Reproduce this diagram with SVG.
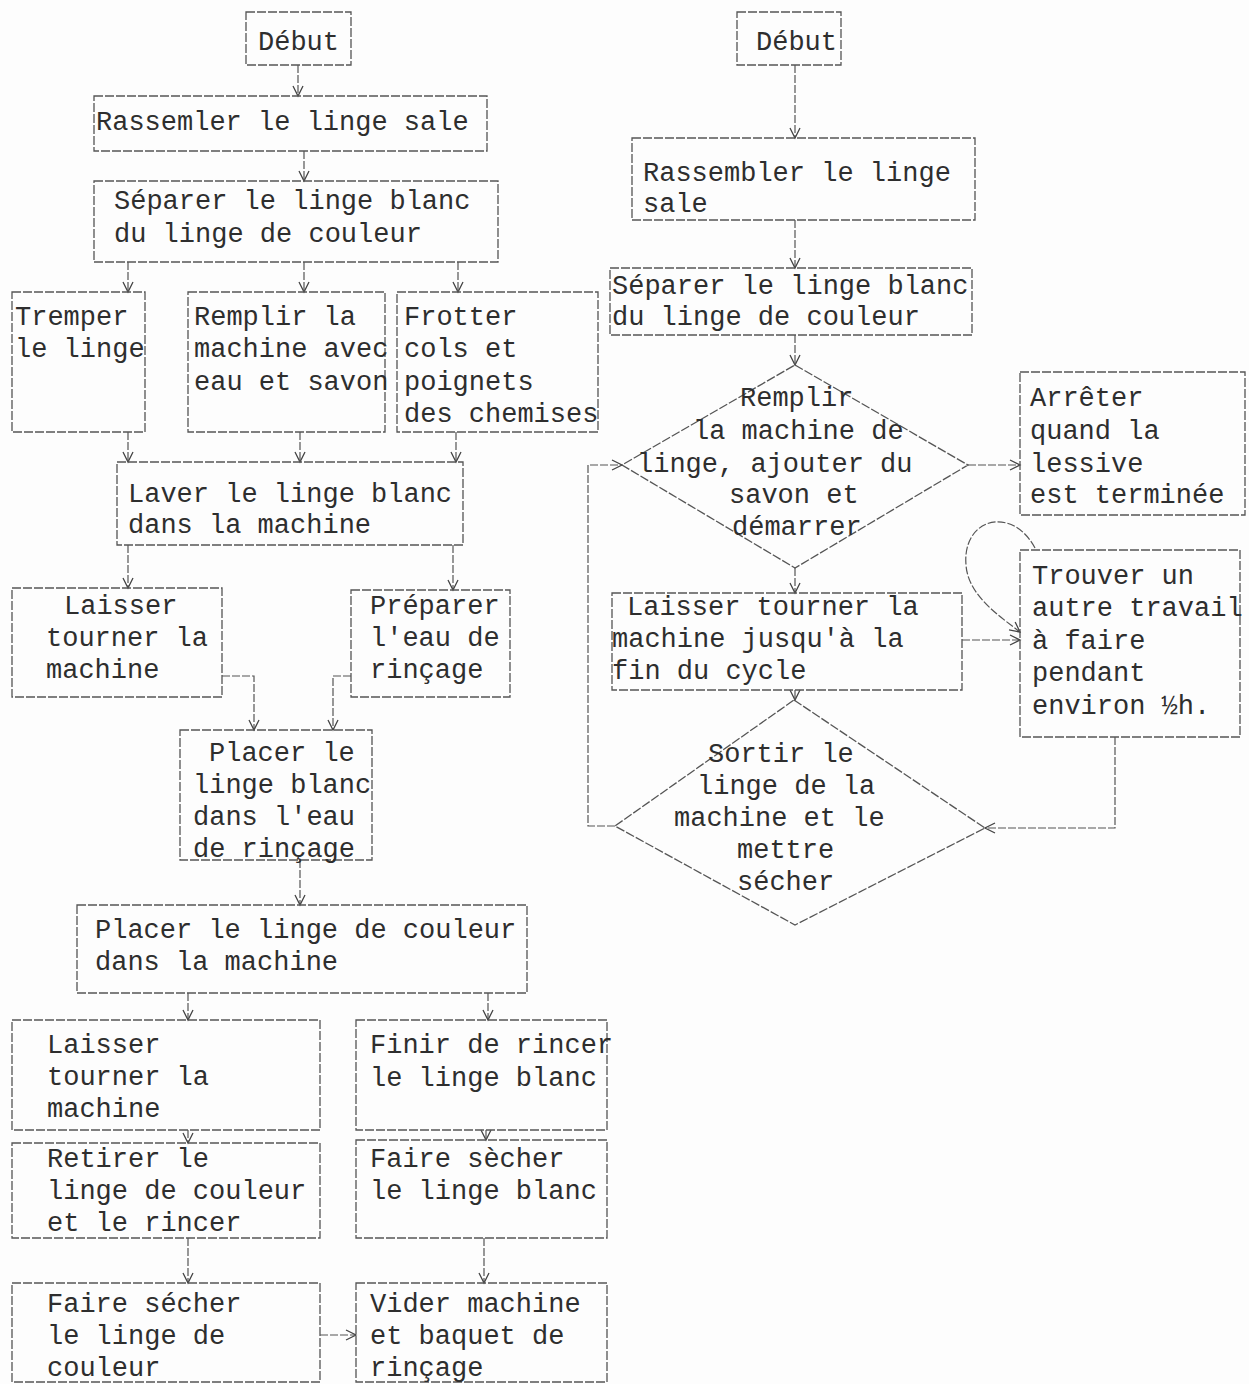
<svg xmlns="http://www.w3.org/2000/svg" width="1249" height="1384" viewBox="0 0 1249 1384">
<defs>
<marker id="ah" viewBox="-12 -7 14 14" refX="0" refY="0" markerWidth="14" markerHeight="14" markerUnits="userSpaceOnUse" orient="auto">
<path d="M-10,-5 L0,0 L-10,5" fill="none" stroke="#444" stroke-width="1.3"/>
</marker>
<style>
.b{fill:none;stroke:#555;stroke-width:1.3;stroke-dasharray:9 2}
.c{fill:none;stroke:#555;stroke-width:1.2;stroke-dasharray:8 2;marker-end:url(#ah)}
.l{fill:none;stroke:#555;stroke-width:1.2;stroke-dasharray:8 2}
text{font-family:"Liberation Mono","DejaVu Sans Mono",monospace;font-size:27px;fill:#2e2e2e}
</style>
</defs>
<rect width="1249" height="1384" fill="#fdfdfd"/>

<g id="connectors">
<path class="c" d="M298,65 V96"/>
<path class="c" d="M304,151 V181"/>
<path class="c" d="M128,262 V292"/>
<path class="c" d="M304,262 V292"/>
<path class="c" d="M458,262 V292"/>
<path class="c" d="M128,432 V462"/>
<path class="c" d="M300,432 V462"/>
<path class="c" d="M456,432 V462"/>
<path class="c" d="M128,545 V588"/>
<path class="c" d="M453,545 V590"/>
<path class="c" d="M222,676 H254 V730"/>
<path class="c" d="M351,676 H333 V730"/>
<path class="c" d="M300,860 V905"/>
<path class="c" d="M188,993 V1020"/>
<path class="c" d="M488,993 V1020"/>
<path class="c" d="M188,1130 V1143"/>
<path class="c" d="M486,1130 V1140"/>
<path class="c" d="M188,1238 V1283"/>
<path class="c" d="M484,1238 V1283"/>
<path class="c" d="M320,1335 H356"/>
<path class="c" d="M795,65 V138"/>
<path class="c" d="M795,220 V268"/>
<path class="c" d="M795,335 V365"/>
<path class="c" d="M968,465 H1020"/>
<path class="c" d="M795,568 V593"/>
<path class="c" d="M962,640 H1020"/>
<path class="c" d="M1035,548 C1012,505 962,518 966,565 C968,595 998,615 1020,632"/>
<path class="c" d="M795,690 V700"/>
<path class="c" d="M1115,737 V828 H985"/>
<path class="c" d="M615,826 H588 V465 H622"/>
</g>

<g id="n-debut-l"><rect class="b" x="246" y="12" width="105" height="53"/><text x="258" y="50">Début</text></g>
<g id="n-rassembler-l"><rect class="b" x="94" y="96" width="393" height="55"/><text x="96" y="130">Rassemler le linge sale</text></g>
<g id="n-separer-l"><rect class="b" x="94" y="181" width="404" height="81"/><text x="114" y="209">Séparer le linge blanc</text><text x="114" y="242">du linge de couleur</text></g>
<g id="n-tremper"><rect class="b" x="12" y="292" width="133" height="140"/><text x="15" y="325">Tremper</text><text x="15" y="357">le linge</text></g>
<g id="n-remplir-l"><rect class="b" x="188" y="292" width="197" height="140"/><text x="194" y="325">Remplir la</text><text x="194" y="357">machine avec</text><text x="194" y="390">eau et savon</text></g>
<g id="n-frotter"><rect class="b" x="397" y="292" width="201" height="140"/><text x="404" y="325">Frotter</text><text x="404" y="357">cols et</text><text x="404" y="390">poignets</text><text x="404" y="422">des chemises</text></g>
<g id="n-laver"><rect class="b" x="117" y="462" width="346" height="83"/><text x="128" y="502">Laver le linge blanc</text><text x="128" y="533">dans la machine</text></g>
<g id="n-laisser1"><rect class="b" x="12" y="588" width="210" height="109"/><text x="64" y="614">Laisser</text><text x="46" y="646">tourner la</text><text x="46" y="678">machine</text></g>
<g id="n-preparer"><rect class="b" x="351" y="590" width="159" height="107"/><text x="370" y="614">Préparer</text><text x="370" y="646">l'eau de</text><text x="370" y="678">rinçage</text></g>
<g id="n-placer-blanc"><rect class="b" x="180" y="730" width="192" height="130"/><text x="209" y="761">Placer le</text><text x="193" y="793">linge blanc</text><text x="193" y="825">dans l'eau</text><text x="193" y="857">de rinçage</text></g>
<g id="n-placer-couleur"><rect class="b" x="77" y="905" width="450" height="88"/><text x="95" y="938">Placer le linge de couleur</text><text x="95" y="970">dans la machine</text></g>
<g id="n-laisser2"><rect class="b" x="12" y="1020" width="308" height="110"/><text x="47" y="1053">Laisser</text><text x="47" y="1085">tourner la</text><text x="47" y="1117">machine</text></g>
<g id="n-finir"><rect class="b" x="356" y="1020" width="251" height="110"/><text x="370" y="1053">Finir de rincer</text><text x="370" y="1086">le linge blanc</text></g>
<g id="n-retirer"><rect class="b" x="12" y="1143" width="308" height="95"/><text x="47" y="1167">Retirer le</text><text x="47" y="1199">linge de couleur</text><text x="47" y="1231">et le rincer</text></g>
<g id="n-secher-blanc"><rect class="b" x="356" y="1140" width="251" height="98"/><text x="370" y="1167">Faire sècher</text><text x="370" y="1199">le linge blanc</text></g>
<g id="n-secher-couleur"><rect class="b" x="12" y="1283" width="308" height="99"/><text x="47" y="1312">Faire sécher</text><text x="47" y="1344">le linge de</text><text x="47" y="1376">couleur</text></g>
<g id="n-vider"><rect class="b" x="356" y="1283" width="251" height="99"/><text x="370" y="1312">Vider machine</text><text x="370" y="1344">et baquet de</text><text x="370" y="1376">rinçage</text></g>

<g id="n-debut-r"><rect class="b" x="737" y="12" width="104" height="53"/><text x="756" y="50">Début</text></g>
<g id="n-rassembler-r"><rect class="b" x="632" y="138" width="343" height="82"/><text x="643" y="181">Rassembler le linge</text><text x="643" y="212">sale</text></g>
<g id="n-separer-r"><rect class="b" x="610" y="268" width="362" height="67"/><text x="612" y="294">Séparer le linge blanc</text><text x="612" y="325">du linge de couleur</text></g>
<g id="n-remplir-r"><path class="b" d="M795,365 L968,465 L795,568 L622,465 Z"/><text x="740" y="406">Remplir</text><text x="693" y="439">la machine de</text><text x="637" y="472">linge, ajouter du</text><text x="729" y="503">savon et</text><text x="732" y="535">démarrer</text></g>
<g id="n-arreter"><rect class="b" x="1020" y="372" width="225" height="143"/><text x="1030" y="406">Arrêter</text><text x="1030" y="439">quand la</text><text x="1030" y="472">lessive</text><text x="1030" y="503">est terminée</text></g>
<g id="n-laisser-r"><rect class="b" x="612" y="593" width="350" height="97"/><text x="627" y="615">Laisser tourner la</text><text x="612" y="647">machine jusqu'à la</text><text x="612" y="679">fin du cycle</text></g>
<g id="n-trouver"><rect class="b" x="1020" y="550" width="220" height="187"/><text x="1032" y="584">Trouver un</text><text x="1032" y="616">autre travail</text><text x="1032" y="649">à faire</text><text x="1032" y="681">pendant</text><text x="1032" y="714">environ ½h.</text></g>
<g id="n-sortir"><path class="b" d="M794,700 L985,828 L795,925 L615,826 Z"/><text x="708" y="762">Sortir le</text><text x="697" y="794">linge de la</text><text x="674" y="826">machine et le</text><text x="737" y="858">mettre</text><text x="737" y="890">sécher</text></g>
</svg>
